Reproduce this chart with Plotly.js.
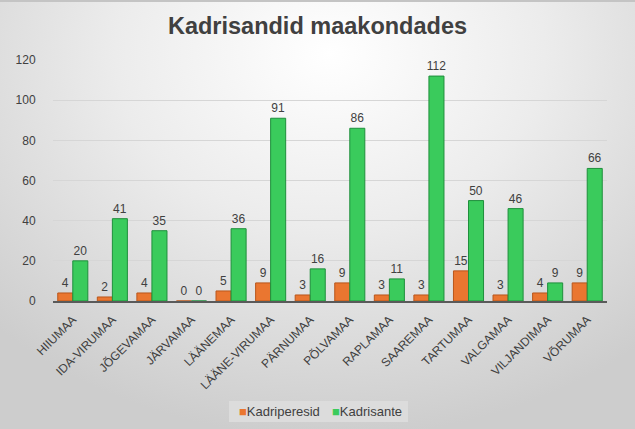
<!DOCTYPE html>
<html>
<head>
<meta charset="utf-8">
<script src="https://cdn.plot.ly/plotly-3.0.1.min.js"></script>
<style>
  html, body { margin: 0; padding: 0; }
  #chart {
    width: 635px; height: 429px; box-sizing: border-box;
    border-top: 2px solid #c4c4c4;
    background: radial-gradient(ellipse 75% 90% at 52% 12%, #ffffff 0%, #ececec 45%, #cdcdcd 100%);
  }
</style>
</head>
<body>
<div id="chart"></div>
<script>
const categories = ["HIIUMAA", "IDA-VIRUMAA", "JÕGEVAMAA", "JÄRVAMAA", "LÄÄNEMAA", "LÄÄNE-VIRUMAA", "PÄRNUMAA", "PÕLVAMAA", "RAPLAMAA", "SAAREMAA", "TARTUMAA", "VALGAMAA", "VILJANDIMAA", "VÕRUMAA"];
const kadriperesid = [4, 2, 4, 0, 5, 9, 3, 9, 3, 3, 15, 3, 4, 9];
const kadrisante = [20, 41, 35, 0, 36, 91, 16, 86, 11, 112, 50, 46, 9, 66];
const yTicks = [0, 20, 40, 60, 80, 100, 120];
const seriesNames = ["Kadriperesid", "Kadrisante"];
const seriesColors = ["#ea7630", "#3acb5c"];
const seriesLines = ["#b9561b", "#1f8f3c"];

const textFont = { family: "Liberation Sans, Arial, sans-serif", size: 12, color: "#404040" };

const traces = [kadriperesid, kadrisante].map((vals, i) => ({
  type: "bar", name: seriesNames[i], x: categories, y: vals,
  marker: { color: seriesColors[i], line: { color: seriesLines[i], width: 1 } },
  text: vals.map(String), textposition: "outside", textfont: textFont,
  constraintext: "none", cliponaxis: false, hoverinfo: "x+y"
}));

const W = 635, H = 427;
const M = { l: 53, r: 28, t: 58, b: 128 };
const plotW = W - M.l - M.r, plotH = H - M.t - M.b;
const px = v => (v - M.l) / plotW;          // pixel x -> paper x
const py = v => (M.t + plotH - v) / plotH;  // pixel y -> paper y

const legendBox = { x0: 229, x1: 408, y0: 399, y1: 420 };
const legendItemX = [237, 330];

const layout = {
  width: W, height: H,
  margin: M,
  paper_bgcolor: "rgba(0,0,0,0)",
  plot_bgcolor: "rgba(0,0,0,0)",
  font: { family: "Liberation Sans, Arial, sans-serif", color: "#404040" },
  title: {
    text: "<b>Kadrisandid maakondades</b>",
    font: { family: "Liberation Sans, Arial, sans-serif", size: 23.5, color: "#404040" },
    x: 0.5, xanchor: "center", y: 0.945, yref: "container", yanchor: "middle"
  },
  barmode: "group",
  bargap: 0.24,
  bargroupgap: 0,
  xaxis: {
    type: "category",
    tickangle: -45,
    tickfont: { size: 12, color: "#404040" },
    showline: true, linecolor: "#5a5a5a", linewidth: 2,
    ticks: "outside", ticklen: 5, tickcolor: "rgba(0,0,0,0)",
    showgrid: false, fixedrange: true
  },
  yaxis: {
    range: [0, 120],
    tickvals: yTicks,
    ticktext: yTicks.map(String),
    tickfont: { size: 12, color: "#404040" },
    showgrid: true, gridcolor: "#d6d6d6", gridwidth: 1,
    zeroline: false, showline: false,
    ticks: "outside", ticklen: 14, tickcolor: "rgba(0,0,0,0)",
    fixedrange: true
  },
  showlegend: false,
  shapes: [{
    type: "rect", xref: "paper", yref: "paper",
    x0: px(legendBox.x0), x1: px(legendBox.x1),
    y0: py(legendBox.y1), y1: py(legendBox.y0),
    fillcolor: "#dcdcdc", line: { width: 0 }, layer: "below"
  }],
  annotations: seriesNames.map((n, i) => ({
    text: '<span style="color:' + seriesColors[i] + '">■</span>' + n,
    xref: "paper", yref: "paper", xanchor: "left", yanchor: "middle",
    x: px(legendItemX[i]), y: py((legendBox.y0 + legendBox.y1) / 2),
    showarrow: false,
    font: { family: "Liberation Sans, Arial, sans-serif", size: 13, color: "#404040" }
  }))
};

Plotly.newPlot("chart", traces, layout, { displayModeBar: false, staticPlot: true });
</script>
</body>
</html>
